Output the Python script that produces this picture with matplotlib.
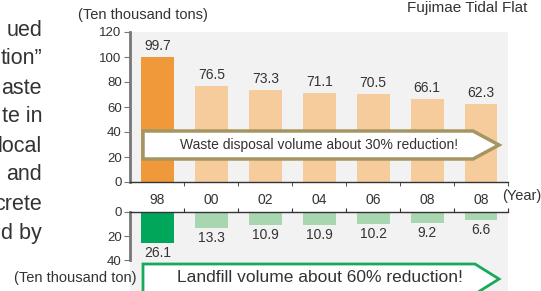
import matplotlib.pyplot as plt
from matplotlib.patches import Polygon

plt.rcParams['font.family'] = ['Liberation Sans', 'DejaVu Sans']

years = ['98', '00', '02', '04', '06', '08', '08']
disposal = [99.7, 76.5, 73.3, 71.1, 70.5, 66.1, 62.3]
landfill = [26.1, 13.3, 10.9, 10.9, 10.2, 9.2, 6.6]
side_text = ['ued', 'tion\u201d', 'aste', 'te in', 'local', 'and', 'crete', 'd by']

W, H = 541, 291
fig = plt.figure(figsize=(W / 100, H / 100), dpi=100)


def fx(px):
    return px / W


def fy(py):
    return 1 - py / H


bg = '#f2f2f2'
txt = '#333333'
spine_gray = '#777777'
x = list(range(len(years)))
xl = (-0.51, 6.49)

# top panel: waste disposal volume
ax = fig.add_axes([fx(130), fy(182), fx(508) - fx(130), fy(32) - fy(182)])
ax.set_facecolor(bg)
top_colors = ['#f0993b'] + ['#f6cc9c'] * 6
ax.bar(x, disposal, width=0.61, color=top_colors, zorder=2)
for i, v in enumerate(disposal):
    ax.annotate(f'{v}', (i, v), xytext=(0, 3), textcoords='offset points',
                ha='center', va='bottom', fontsize=10, color=txt)
ax.set_xlim(*xl)
ax.set_ylim(0, 120)
ax.set_yticks(range(0, 121, 20))
ax.set_xticks(x)
ax.set_xticklabels(years, fontsize=10, color=txt)
ax.set_xticks([i + 0.5 for i in x], minor=True)
ax.tick_params(axis='x', which='major', length=0, pad=8)
ax.tick_params(axis='x', which='minor', length=3, direction='out', color='#333333')
ax.tick_params(axis='y', length=4, color=spine_gray, labelsize=9.5, labelcolor=txt, pad=2)
for s in ['top', 'right']:
    ax.spines[s].set_visible(False)
ax.spines['left'].set_color(spine_gray)
ax.spines['left'].set_linewidth(2)
ax.spines['bottom'].set_color('#333333')
ax.spines['bottom'].set_linewidth(1)

# bottom panel: landfill volume
ax2 = fig.add_axes([fx(130), 0, fx(508) - fx(130), fy(212)])
ax2.set_facecolor(bg)
bot_colors = ['#00a75a'] + ['#a7d6b0'] * 6
ax2.bar(x, landfill, width=0.61, color=bot_colors, zorder=2)
for i, v in enumerate(landfill):
    ax2.annotate(f'{v}', (i, v), xytext=(0, -2), textcoords='offset points',
                 ha='center', va='top', fontsize=10, color=txt)
ax2.set_xlim(*xl)
ax2.set_ylim(65.8, 0)
ax2.set_yticks([0, 20, 40])
ax2.xaxis.tick_top()
ax2.set_xticks([i + 0.5 for i in x])
ax2.set_xticklabels([])
ax2.tick_params(axis='x', length=3, direction='out', color='#333333')
ax2.tick_params(axis='y', length=4, color=spine_gray, labelsize=9.5, labelcolor=txt, pad=2)
for s in ['bottom', 'right']:
    ax2.spines[s].set_visible(False)
ax2.spines['left'].set_color(spine_gray)
ax2.spines['left'].set_linewidth(2)
ax2.spines['left'].set_bounds(0, 40)
ax2.spines['top'].set_color('#333333')
ax2.spines['top'].set_linewidth(1)


def arrow(x0, x1, xt, y0, y1, color, lw):
    ym = (y0 + y1) / 2
    pts = [(fx(x0), fy(y0)), (fx(x1), fy(y0)), (fx(xt), fy(ym)),
           (fx(x1), fy(y1)), (fx(x0), fy(y1))]
    fig.add_artist(Polygon(pts, closed=True, transform=fig.transFigure,
                           facecolor='white', edgecolor=color, linewidth=lw,
                           zorder=5))


arrow(143, 473, 499, 131, 159, '#a59661', 2.5)
fig.text(fx(319), fy(145), 'Waste disposal volume about 30% reduction!',
         ha='center', va='center', fontsize=10, color=txt, zorder=6)
arrow(143, 475, 499, 264, 294, '#1aa85a', 2)
fig.text(fx(320), fy(278), 'Landfill volume about 60% reduction!',
         ha='center', va='center', fontsize=12.5, color=txt, zorder=6)

fig.text(fx(78), fy(15), '(Ten thousand tons)', ha='left', va='center',
         fontsize=10.5, color=txt)
fig.text(fx(527), fy(8), 'Fujimae Tidal Flat', ha='right', va='center',
         fontsize=11, color=txt)
fig.text(fx(541), fy(196), '(Year)', ha='right', va='center',
         fontsize=10.5, color=txt)
fig.text(fx(137), fy(278), '(Ten thousand ton)', ha='right', va='center',
         fontsize=10.5, color=txt)

# clipped body text at the left edge
for i, t in enumerate(side_text):
    fig.text(fx(42), fy(30 + 29 * i), t, ha='right', va='center',
             fontsize=15.5, color=txt)

fig.savefig('out.png', dpi=100)
